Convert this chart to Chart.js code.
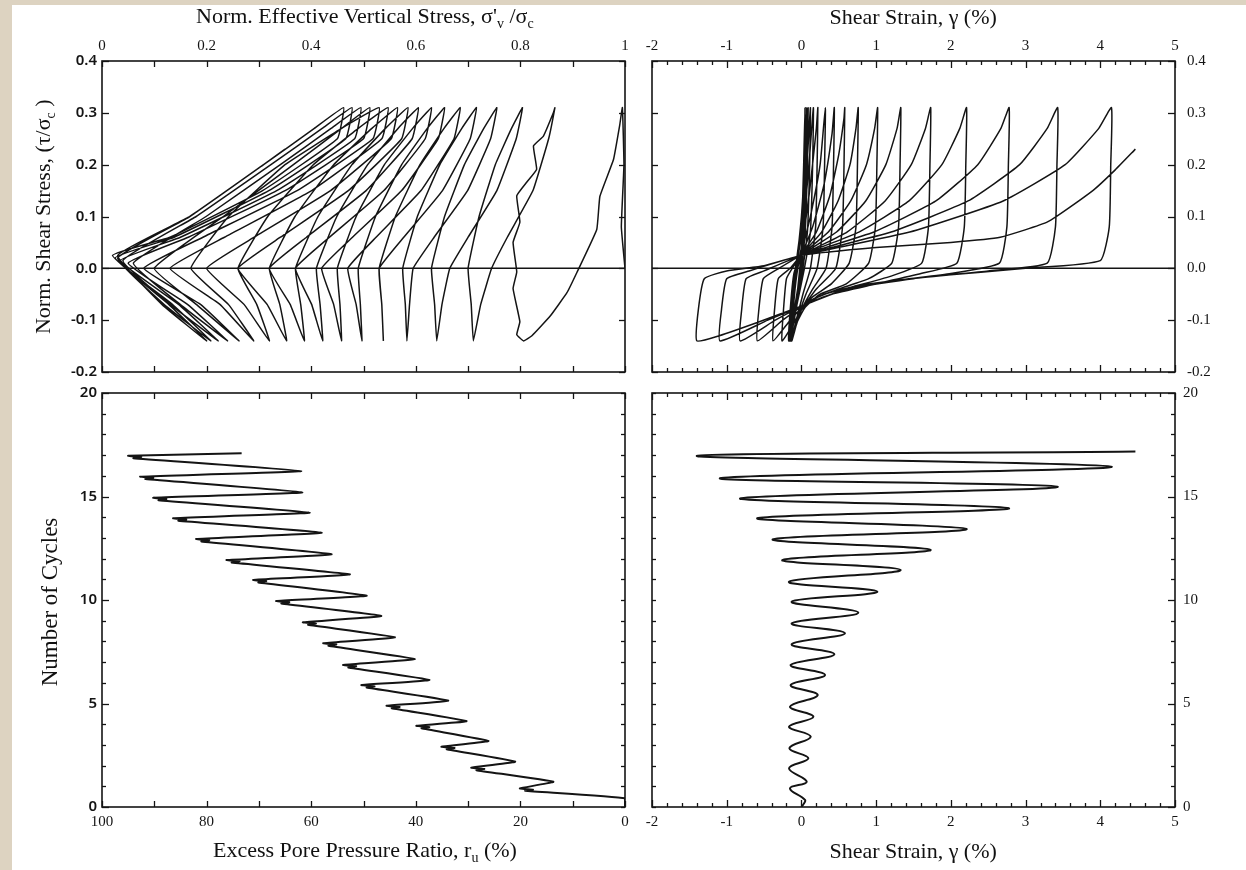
<!DOCTYPE html>
<html>
<head>
<meta charset="utf-8">
<script src="https://cdn.jsdelivr.net/npm/chart.js@4.4.1/dist/chart.umd.min.js"></script>
<style>
  body { margin: 0; width: 1246px; height: 870px; background: #ddd3c1; overflow: hidden; position: relative; }
  #sheet { position: absolute; left: 12px; top: 5px; width: 1234px; height: 865px; background: #fff; }
  canvas { position: absolute; }
  .ttl { position: absolute; font-family: "Liberation Serif", serif; font-size: 22px; color: #111; white-space: nowrap; z-index: 5; }
  .ttl sub { font-size: 14px; }
  .big { font-size: 23px; }
</style>
</head>
<body>
<div id="sheet"></div>
<canvas id="tl" width="640" height="385" style="left:0;top:0"></canvas>
<canvas id="tr" width="606" height="385" style="left:640px;top:0"></canvas>
<canvas id="bl" width="640" height="490" style="left:0;top:380px"></canvas>
<canvas id="br" width="606" height="490" style="left:640px;top:380px"></canvas>

<div class="ttl" id="t1">Norm. Effective Vertical Stress, σ'<sub>v</sub> /σ<sub>c</sub></div>
<div class="ttl" id="t2">Shear Strain, γ (%)</div>
<div class="ttl" id="t3">Excess Pore Pressure Ratio, r<sub>u</sub> (%)</div>
<div class="ttl" id="t4">Shear Strain, γ (%)</div>
<div class="ttl" id="t5">Norm. Shear Stress, (τ/σ<sub>c</sub> )</div>
<div class="ttl big" id="t6">Number of Cycles</div>

<script>
// tick values
const stressTicks = [0, 0.2, 0.4, 0.6, 0.8, 1];
const stressMinor = [0.1, 0.3, 0.5, 0.7, 0.9];
const shearTicks = [-0.2, -0.1, 0, 0.1, 0.2, 0.3, 0.4];
const strainTicks = [-2, -1, 0, 1, 2, 3, 4, 5];
const strainMinor = [-1.8, -1.6, -1.4, -1.2, -0.8, -0.6, -0.4, -0.2, 0.2, 0.4, 0.6, 0.8,
  1.2, 1.4, 1.6, 1.8, 2.2, 2.4, 2.6, 2.8, 3.2, 3.4, 3.6, 3.8, 4.2, 4.4, 4.6, 4.8];
const poreTicks = [100, 80, 60, 40, 20, 0];
const poreMinor = [90, 70, 50, 30, 10];
const cycleTicks = [0, 5, 10, 15, 20];
const cycleMinor = [1, 2, 3, 4, 6, 7, 8, 9, 11, 12, 13, 14, 16, 17, 18, 19];

// stress path (top left): sigma'v/sigma_c and tau/sigma_c
const stressRatio = [
  1.0, 0.993, 0.998, 0.995,
  0.99, 0.978, 0.952, 0.946, 0.908, 0.889, 0.857, 0.822, 0.806,
  0.793, 0.799, 0.786, 0.793, 0.786, 0.799, 0.793, 0.812, 0.831, 0.825, 0.844, 0.863, 0.866,
  0.854, 0.824, 0.775, 0.745, 0.724, 0.71,
  0.706, 0.70, 0.721, 0.752, 0.783, 0.804,
  0.792, 0.755, 0.70, 0.665, 0.65, 0.64,
  0.636, 0.63, 0.655, 0.693, 0.73, 0.755,
  0.743, 0.699, 0.635, 0.595, 0.588, 0.583,
  0.58, 0.575, 0.603, 0.646, 0.688, 0.716,
  0.704, 0.651, 0.577, 0.53, 0.535, 0.538,
  0.535, 0.53, 0.561, 0.608, 0.654, 0.685,
  0.673, 0.61, 0.524, 0.47, 0.486, 0.497,
  0.494, 0.49, 0.523, 0.573, 0.622, 0.655,
  0.643, 0.573, 0.479, 0.42, 0.443, 0.458,
  0.455, 0.45, 0.486, 0.54, 0.594, 0.63,
  0.618, 0.539, 0.435, 0.37, 0.401, 0.422,
  0.417, 0.41, 0.449, 0.508, 0.566, 0.605,
  0.593, 0.505, 0.391, 0.32, 0.36, 0.387,
  0.38, 0.37, 0.413, 0.478, 0.542, 0.585,
  0.573, 0.471, 0.341, 0.26, 0.316, 0.353,
  0.34, 0.32, 0.369, 0.443, 0.516, 0.565,
  0.553, 0.437, 0.291, 0.20, 0.272, 0.32,
  0.296, 0.26, 0.317, 0.404, 0.49, 0.547,
  0.535, 0.401, 0.234, 0.13, 0.226, 0.29,
  0.242, 0.17, 0.242, 0.35, 0.458, 0.53,
  0.518, 0.373, 0.193, 0.08, 0.189, 0.262,
  0.181, 0.10, 0.232, 0.366, 0.458, 0.512,
  0.50, 0.35, 0.165, 0.05, 0.164, 0.24,
  0.15, 0.06, 0.199, 0.341, 0.438, 0.495,
  0.483, 0.334, 0.15, 0.035, 0.147, 0.222,
  0.131, 0.04, 0.18, 0.323, 0.421, 0.478,
  0.466, 0.319, 0.138, 0.025, 0.135, 0.208,
  0.119, 0.03, 0.168, 0.309, 0.406, 0.462,
  0.45, 0.307, 0.13, 0.02, 0.128, 0.20,
  0.115, 0.03, 0.168, 0.309, 0.35
];
const shearPath = [
  0.0, 0.08, 0.2, 0.31,
  0.277, 0.21, 0.139, 0.075, -0.008, -0.047, -0.092, -0.13, -0.14,
  -0.128, -0.103, -0.039, -0.007, 0.05, 0.089, 0.14, 0.166, 0.191, 0.236, 0.255, 0.30, 0.31,
  0.25, 0.15, 0.06, 0.0, -0.07, -0.14,
  -0.07, 0.0, 0.1, 0.2, 0.27, 0.31,
  0.25, 0.15, 0.06, 0.0, -0.07, -0.14,
  -0.07, 0.0, 0.1, 0.2, 0.27, 0.31,
  0.25, 0.15, 0.06, 0.0, -0.07, -0.14,
  -0.07, 0.0, 0.1, 0.2, 0.27, 0.31,
  0.25, 0.15, 0.06, 0.0, -0.07, -0.14,
  -0.07, 0.0, 0.1, 0.2, 0.27, 0.31,
  0.25, 0.15, 0.06, 0.0, -0.07, -0.14,
  -0.07, 0.0, 0.1, 0.2, 0.27, 0.31,
  0.25, 0.15, 0.06, 0.0, -0.07, -0.14,
  -0.07, 0.0, 0.1, 0.2, 0.27, 0.31,
  0.25, 0.15, 0.06, 0.0, -0.07, -0.14,
  -0.07, 0.0, 0.1, 0.2, 0.27, 0.31,
  0.25, 0.15, 0.06, 0.0, -0.07, -0.14,
  -0.07, 0.0, 0.1, 0.2, 0.27, 0.31,
  0.25, 0.15, 0.06, 0.0, -0.07, -0.14,
  -0.07, 0.0, 0.1, 0.2, 0.27, 0.31,
  0.25, 0.15, 0.06, 0.0, -0.07, -0.14,
  -0.07, 0.0, 0.1, 0.2, 0.27, 0.31,
  0.25, 0.15, 0.06, 0.0, -0.07, -0.14,
  -0.07, 0.0, 0.1, 0.2, 0.27, 0.31,
  0.25, 0.15, 0.06, 0.0, -0.07, -0.14,
  -0.07, 0.0, 0.1, 0.2, 0.27, 0.31,
  0.25, 0.15, 0.06, 0.01, -0.07, -0.14,
  -0.07, 0.01, 0.1, 0.2, 0.27, 0.31,
  0.25, 0.15, 0.06, 0.015, -0.07, -0.14,
  -0.07, 0.015, 0.1, 0.2, 0.27, 0.31,
  0.25, 0.15, 0.06, 0.02, -0.07, -0.14,
  -0.07, 0.02, 0.1, 0.2, 0.27, 0.31,
  0.25, 0.15, 0.06, 0.025, -0.07, -0.14,
  -0.07, 0.025, 0.1, 0.2, 0.23
];

// hysteresis loops (top right): shear strain % and tau/sigma_c
const loopStrain = [
  0, 0.01, 0.03, 0.048,
  0.04, 0.01, -0.05, -0.11, -0.15,
  -0.13, -0.07, 0.0, 0.04, 0.07,
  0.06, 0.03, -0.04, -0.12, -0.17,
  -0.15, -0.08, 0.0, 0.05, 0.09,
  0.08, 0.05, -0.02, -0.11, -0.16,
  -0.14, -0.08, 0.0, 0.07, 0.12,
  0.11, 0.08, 0.0, -0.1, -0.17,
  -0.15, -0.09, 0.0, 0.09, 0.16,
  0.15, 0.12, 0.04, -0.06, -0.15,
  -0.13, -0.08, 0.0, 0.11, 0.2, 0.22,
  0.21, 0.19, 0.12, 0.02, -0.07, -0.14,
  -0.12, -0.07, 0.0, 0.12, 0.25, 0.32,
  0.31, 0.29, 0.21, 0.06, -0.06, -0.14,
  -0.12, -0.07, 0.0, 0.15, 0.3, 0.41, 0.44,
  0.43, 0.41, 0.33, 0.15, 0.0, -0.07, -0.13,
  -0.11, -0.07, 0.0, 0.2, 0.38, 0.5, 0.57, 0.58,
  0.57, 0.55, 0.46, 0.2, 0.0, -0.07, -0.13,
  -0.11, -0.07, 0.0, 0.27, 0.49, 0.65, 0.73, 0.76,
  0.75, 0.73, 0.64, 0.4, 0.15, 0.0, -0.07, -0.13,
  -0.11, -0.06, 0.0, 0.36, 0.66, 0.87, 0.98, 1.02,
  1.01, 0.99, 0.9, 0.6, 0.25, 0.05, -0.08, -0.17,
  -0.15, -0.1, 0.0, 0.47, 0.86, 1.13, 1.28, 1.33,
  1.32, 1.30, 1.21, 0.9, 0.5, 0.15, 0.0, -0.12, -0.26,
  -0.24, -0.2, -0.1, 0.0, 0.61, 1.12, 1.47, 1.66, 1.73,
  1.72, 1.70, 1.61, 1.2, 0.7, 0.3, 0.05, -0.15, -0.38,
  -0.36, -0.31, -0.15, 0.0, 0.77, 1.44, 1.88, 2.12, 2.21,
  2.2, 2.18, 2.08, 1.6, 1.0, 0.4, 0.05, -0.25, -0.59,
  -0.57, -0.51, -0.3, 0.0, 0.97, 1.8, 2.36, 2.67, 2.78,
  2.77, 2.75, 2.65, 2.0, 1.2, 0.5, 0.05, -0.35, -0.82,
  -0.8, -0.74, -0.5, 0.0, 1.2, 2.23, 2.92, 3.29, 3.43,
  3.42, 3.40, 3.29, 2.5, 1.5, 0.6, 0.05, -0.45, -1.09,
  -1.07, -1.0, -0.7, 0.0, 1.45, 2.7, 3.53, 3.98, 4.15,
  4.14, 4.12, 4.0, 3.0, 1.8, 0.7, 0.05, -0.6, -1.1, -1.40,
  -1.38, -1.3, -1.0, -0.5, 0.0, 1.0, 2.0, 2.66, 3.3, 3.9, 4.2, 4.47
];
const loopShear = [
  0, 0.1, 0.2, 0.31,
  0.2, 0.06, -0.04, -0.1, -0.14,
  -0.08, 0.0, 0.1, 0.2, 0.31,
  0.2, 0.07, -0.03, -0.1, -0.14,
  -0.08, 0.0, 0.09, 0.2, 0.31,
  0.2, 0.07, -0.03, -0.1, -0.14,
  -0.08, -0.005, 0.07, 0.19, 0.31,
  0.2, 0.07, -0.02, -0.09, -0.14,
  -0.08, -0.01, 0.06, 0.18, 0.31,
  0.2, 0.07, 0.0, -0.07, -0.14,
  -0.08, -0.01, 0.04, 0.15, 0.27, 0.31,
  0.2, 0.08, 0.0, -0.05, -0.1, -0.14,
  -0.08, -0.01, 0.03, 0.1, 0.2, 0.31,
  0.2, 0.08, 0.0, -0.05, -0.1, -0.14,
  -0.08, -0.01, 0.025, 0.08, 0.16, 0.26, 0.31,
  0.2, 0.08, 0.0, -0.04, -0.08, -0.11, -0.14,
  -0.08, -0.01, 0.025, 0.07, 0.14, 0.22, 0.29, 0.31,
  0.2, 0.08, 0.0, -0.04, -0.08, -0.11, -0.14,
  -0.08, -0.01, 0.025, 0.07, 0.13, 0.2, 0.27, 0.31,
  0.2, 0.08, 0.01, -0.03, -0.055, -0.08, -0.11, -0.14,
  -0.08, -0.01, 0.025, 0.07, 0.13, 0.2, 0.27, 0.31,
  0.2, 0.08, 0.01, -0.03, -0.05, -0.075, -0.11, -0.14,
  -0.08, -0.01, 0.025, 0.07, 0.13, 0.2, 0.27, 0.31,
  0.2, 0.08, 0.01, -0.02, -0.04, -0.06, -0.08, -0.11, -0.14,
  -0.08, -0.02, 0.005, 0.025, 0.07, 0.13, 0.2, 0.27, 0.31,
  0.2, 0.08, 0.01, -0.015, -0.035, -0.05, -0.07, -0.1, -0.14,
  -0.08, -0.02, 0.0, 0.025, 0.07, 0.13, 0.2, 0.27, 0.31,
  0.2, 0.08, 0.01, -0.01, -0.03, -0.05, -0.07, -0.1, -0.14,
  -0.08, -0.02, 0.0, 0.025, 0.07, 0.13, 0.2, 0.27, 0.31,
  0.2, 0.08, 0.01, -0.01, -0.025, -0.045, -0.07, -0.1, -0.14,
  -0.08, -0.02, -0.005, 0.025, 0.07, 0.13, 0.2, 0.27, 0.31,
  0.2, 0.08, 0.01, -0.005, -0.02, -0.04, -0.07, -0.1, -0.14,
  -0.08, -0.02, -0.005, 0.025, 0.07, 0.13, 0.2, 0.27, 0.31,
  0.2, 0.08, 0.015, 0.0, -0.015, -0.035, -0.07, -0.105, -0.13, -0.14,
  -0.08, -0.02, -0.005, 0.005, 0.025, 0.04, 0.05, 0.06, 0.09, 0.15, 0.19, 0.23
];

// pore pressure ratio (%) vs number of cycles (bottom left)
const poreRatio = [
  0, 0,
  19.1, 17.6, 20.1, 13.7,
  28.4, 26.9, 29.4, 21.0,
  34.1, 32.6, 35.1, 26.1,
  38.9, 37.4, 39.9, 30.3,
  44.6, 43.1, 45.6, 33.8,
  49.4, 47.9, 50.4, 37.4,
  52.9, 51.4, 53.9, 40.2,
  56.7, 55.2, 57.7, 44.0,
  60.6, 59.1, 61.6, 46.6,
  65.7, 64.2, 66.7, 49.4,
  70.1, 68.6, 71.1, 52.6,
  75.2, 73.7, 76.2, 56.1,
  81.0, 79.5, 82.0, 58.0,
  85.4, 83.9, 86.4, 60.3,
  89.2, 87.7, 90.2, 61.7,
  91.7, 90.2, 92.7, 61.9,
  94.0, 92.5, 95.0, 73.3
];
const poreCycles = [
  0, 0.42,
  0.78, 0.84, 0.90, 1.22,
  1.78, 1.84, 1.90, 2.19,
  2.79, 2.85, 2.91, 3.19,
  3.80, 3.86, 3.92, 4.15,
  4.77, 4.83, 4.89, 5.14,
  5.77, 5.83, 5.89, 6.14,
  6.74, 6.80, 6.86, 7.15,
  7.79, 7.85, 7.91, 8.20,
  8.80, 8.86, 8.92, 9.23,
  9.83, 9.89, 9.95, 10.21,
  10.85, 10.91, 10.97, 11.24,
  11.81, 11.87, 11.93, 12.21,
  12.83, 12.89, 12.95, 13.25,
  13.83, 13.89, 13.95, 14.22,
  14.82, 14.88, 14.94, 15.20,
  15.84, 15.90, 15.96, 16.23,
  16.85, 16.91, 16.97, 17.09
];

// shear strain (%) vs number of cycles (bottom right)
const strainHist = [
  0.0, 0.03, 0.048, -0.153, 0.071, -0.166, 0.093, -0.161, 0.124, -0.166, 0.16, -0.153,
  0.218, -0.144, 0.316, -0.144, 0.441, -0.13, 0.583, -0.13, 0.762, -0.13, 1.016, -0.166,
  1.328, -0.255, 1.73, -0.384, 2.212, -0.59, 2.779, -0.82, 3.43, -1.09, 4.153, -1.40, 4.47
];
const strainCycles = [
  0.0, 0.15, 0.34, 0.90, 1.22, 1.87, 2.35, 2.84, 3.40, 3.88, 4.36, 4.85,
  5.41, 5.89, 6.38, 6.86, 7.38, 7.86, 8.39, 8.87, 9.39, 9.92, 10.40, 10.88,
  11.45, 11.93, 12.42, 12.93, 13.43, 13.95, 14.43, 14.91, 15.47, 15.88, 16.44, 16.96, 17.17
];

const INK = '#141414';
const serif = 'Liberation Serif';
const sans = 'Noto Sans';

const pts = (xs, ys) => xs.map((x, i) => ({ x: x, y: ys[i] }));

// frame + inward tick marks, placed through the chart scales
const frameTicks = {
  id: 'frameTicks',
  afterDatasetsDraw(chart, args, opts) {
    const ctx = chart.ctx, a = chart.chartArea;
    ctx.save();
    ctx.strokeStyle = INK;
    ctx.lineWidth = 1.6;
    ctx.strokeRect(a.left, a.top, a.right - a.left, a.bottom - a.top);
    ctx.lineWidth = 1.3;
    (opts.marks || []).forEach(m => {
      const sc = chart.scales[m.scale];
      m.values.forEach(v => {
        const p = Math.round(sc.getPixelForValue(v)) + 0.5;
        ctx.beginPath();
        if (m.side === 'top') { ctx.moveTo(p, a.top); ctx.lineTo(p, a.top + m.len); }
        if (m.side === 'bottom') { ctx.moveTo(p, a.bottom); ctx.lineTo(p, a.bottom - m.len); }
        if (m.side === 'left') { ctx.moveTo(a.left, p); ctx.lineTo(a.left + m.len, p); }
        if (m.side === 'right') { ctx.moveTo(a.right, p); ctx.lineTo(a.right - m.len, p); }
        ctx.stroke();
      });
    });
    ctx.restore();
  }
};

function axis(pos, min, max, ticks, fmt, size, font, pad, extra) {
  const horiz = pos === 'top' || pos === 'bottom';
  return Object.assign({
    type: 'linear', position: pos, min: min, max: max,
    afterBuildTicks: s => { s.ticks = ticks.map(v => ({ value: v })); },
    ticks: { callback: fmt, autoSkip: false, maxRotation: 0, padding: pad, color: INK,
      font: { family: font, size: 15, weight: font === sans ? '600' : 'normal' } },
    grid: { display: false, drawTicks: false },
    border: { display: false },
    afterFit: s => {
      if (horiz) { s.height = size; s.paddingLeft = 0; s.paddingRight = 0; }
      else { s.width = size; s.paddingTop = 0; s.paddingBottom = 0; }
    }
  }, extra || {});
}

const fmt1 = v => v.toFixed(1);
const fmtStress = v => (v === 0 || v === 1) ? String(v) : v.toFixed(1);
const fmtInt = v => String(v);

function lineSet(data, width, tension) {
  return { data: data, showLine: true, borderColor: INK, borderWidth: width, pointRadius: 0,
    tension: tension, fill: false };
}

const base = {
  responsive: false, animation: false, devicePixelRatio: 1,
  plugins: { legend: { display: false }, tooltip: { enabled: false } }
};

// top left: stress path
new Chart(document.getElementById('tl'), {
  type: 'scatter',
  data: { datasets: [
    lineSet(pts([0, 1], [0, 0]), 1.5, 0),
    lineSet(pts(stressRatio, shearPath), 1.5, 0.1)
  ] },
  options: Object.assign({}, base, {
    layout: { padding: { left: 0, top: 0, right: 15, bottom: 13 } },
    scales: {
      x: axis('top', 0, 1, stressTicks, fmtStress, 61, serif, 6),
      y: axis('left', -0.2, 0.4, shearTicks, fmt1, 102, sans, 5)
    },
    plugins: Object.assign({}, base.plugins, { frameTicks: { marks: [
      { scale: 'x', side: 'top', values: stressTicks.concat(stressMinor), len: 6 },
      { scale: 'x', side: 'bottom', values: stressTicks.concat(stressMinor), len: 6 },
      { scale: 'y', side: 'left', values: shearTicks, len: 7 },
      { scale: 'y', side: 'right', values: shearTicks, len: 6 }
    ] } })
  }),
  plugins: [frameTicks]
});

// top right: stress-strain loops
new Chart(document.getElementById('tr'), {
  type: 'scatter',
  data: { datasets: [
    lineSet(pts([-2, 5], [0, 0]), 1.5, 0),
    lineSet(pts(loopStrain, loopShear), 1.5, 0.15)
  ] },
  options: Object.assign({}, base, {
    layout: { padding: { left: 12, top: 0, right: 0, bottom: 13 } },
    scales: {
      x: axis('top', -2, 5, strainTicks, fmtInt, 61, serif, 6),
      y: axis('right', -0.2, 0.4, shearTicks, fmt1, 71, serif, 12)
    },
    plugins: Object.assign({}, base.plugins, { frameTicks: { marks: [
      { scale: 'x', side: 'top', values: strainTicks, len: 7 },
      { scale: 'x', side: 'top', values: strainMinor, len: 4 },
      { scale: 'x', side: 'bottom', values: strainTicks, len: 7 },
      { scale: 'x', side: 'bottom', values: strainMinor, len: 4 },
      { scale: 'y', side: 'right', values: shearTicks, len: 7 },
      { scale: 'y', side: 'left', values: shearTicks, len: 6 }
    ] } })
  }),
  plugins: [frameTicks]
});

// bottom left: pore pressure build-up
new Chart(document.getElementById('bl'), {
  type: 'scatter',
  data: { datasets: [ lineSet(pts(poreRatio, poreCycles), 2, 0.1) ] },
  options: Object.assign({}, base, {
    layout: { padding: { left: 0, top: 13, right: 15, bottom: 0 } },
    scales: {
      x: axis('bottom', 0, 100, poreTicks, fmtInt, 63, serif, 6, { reverse: true }),
      y: axis('left', 0, 20, cycleTicks, fmtInt, 102, sans, 5)
    },
    plugins: Object.assign({}, base.plugins, { frameTicks: { marks: [
      { scale: 'x', side: 'top', values: poreTicks.concat(poreMinor), len: 6 },
      { scale: 'x', side: 'bottom', values: poreTicks.concat(poreMinor), len: 6 },
      { scale: 'y', side: 'left', values: cycleTicks, len: 7 },
      { scale: 'y', side: 'left', values: cycleMinor, len: 4 },
      { scale: 'y', side: 'right', values: cycleTicks.concat(cycleMinor), len: 4 }
    ] } })
  }),
  plugins: [frameTicks]
});

// bottom right: strain history
new Chart(document.getElementById('br'), {
  type: 'scatter',
  data: { datasets: [ lineSet(pts(strainHist, strainCycles), 2, 0.4) ] },
  options: Object.assign({}, base, {
    layout: { padding: { left: 12, top: 13, right: 0, bottom: 0 } },
    scales: {
      x: axis('bottom', -2, 5, strainTicks, fmtInt, 63, serif, 6),
      y: axis('right', 0, 20, cycleTicks, fmtInt, 71, serif, 8)
    },
    plugins: Object.assign({}, base.plugins, { frameTicks: { marks: [
      { scale: 'x', side: 'top', values: strainTicks, len: 7 },
      { scale: 'x', side: 'top', values: strainMinor, len: 4 },
      { scale: 'x', side: 'bottom', values: strainTicks, len: 7 },
      { scale: 'x', side: 'bottom', values: strainMinor, len: 4 },
      { scale: 'y', side: 'right', values: cycleTicks, len: 7 },
      { scale: 'y', side: 'right', values: cycleMinor, len: 4 },
      { scale: 'y', side: 'left', values: cycleTicks.concat(cycleMinor), len: 4 }
    ] } })
  }),
  plugins: [frameTicks]
});

// axis titles
function place(id, cx, cy, rot) {
  const el = document.getElementById(id);
  const w = el.offsetWidth, h = el.offsetHeight;
  el.style.left = (cx - w / 2) + 'px';
  el.style.top = (cy - h / 2) + 'px';
  if (rot) el.style.transform = 'rotate(-90deg)';
}
place('t1', 365, 17);
place('t2', 913, 17);
place('t3', 365, 851);
place('t4', 913, 851);
place('t5', 44, 216, true);
place('t6', 50, 602, true);
</script>
</body>
</html>
